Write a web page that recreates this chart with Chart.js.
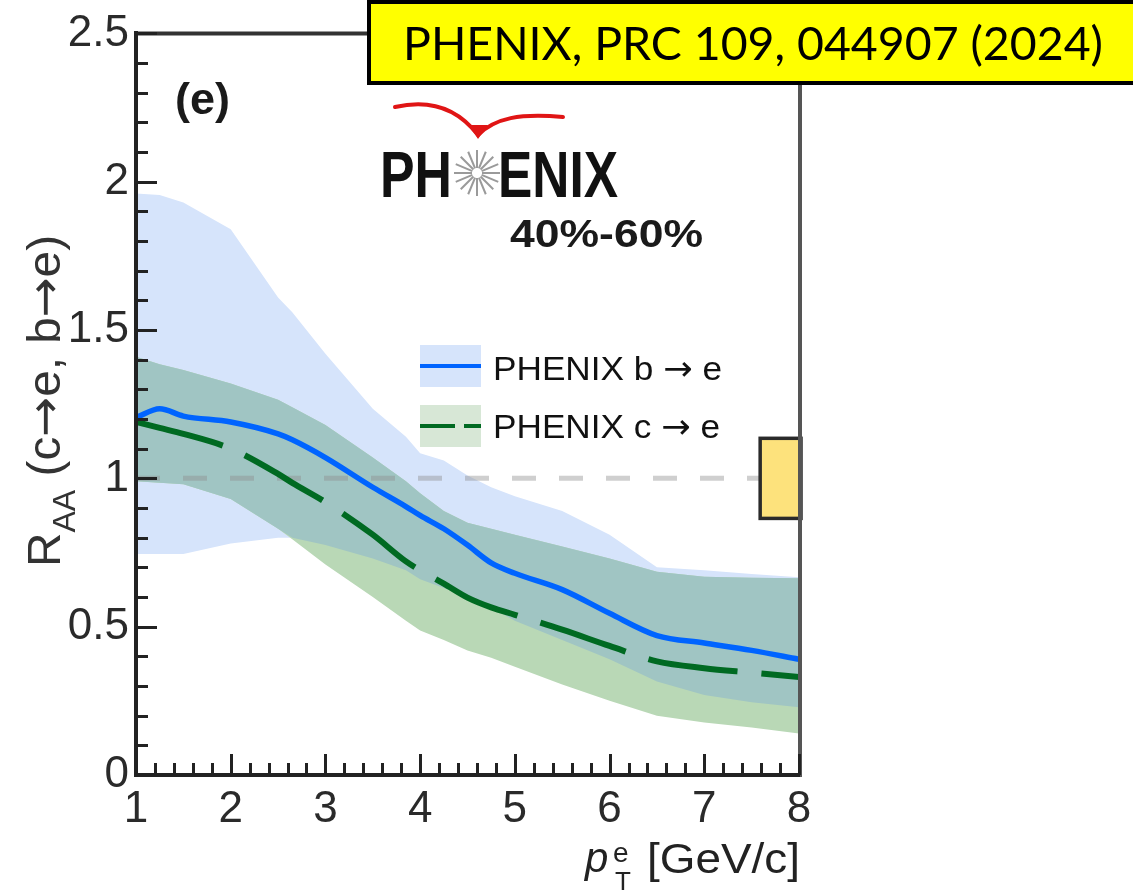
<!DOCTYPE html>
<html>
<head>
<meta charset="utf-8">
<script src="https://cdn.jsdelivr.net/npm/chart.js@4.4.1/dist/chart.umd.min.js"></script>
<style>
  html, body { margin: 0; padding: 0; background: #ffffff; }
  #wrap { position: relative; width: 1133px; height: 892px; }
</style>
</head>
<body>
<div id="wrap"><canvas id="c"></canvas></div>
<script>
// ---------------- data ----------------
const pT = [1, 1.25, 1.5, 2, 2.5, 2.65, 3, 3.5, 3.85, 4, 4.25, 4.5, 4.75, 5, 5.5, 6, 6.5, 7, 7.5, 8];

const bToE      = [1.205, 1.235, 1.21, 1.19, 1.15, 1.13, 1.07, 0.97, 0.905, 0.875, 0.83, 0.775, 0.715, 0.68, 0.625, 0.545, 0.47, 0.445, 0.42, 0.39];
const bToEUpper = [1.96, 1.955, 1.93, 1.84, 1.61, 1.56, 1.42, 1.235, 1.14, 1.085, 1.06, 1.01, 0.97, 0.94, 0.89, 0.81, 0.70, 0.69, 0.678, 0.667];
const bToELower = [0.745, 0.745, 0.745, 0.78, 0.80, 0.80, 0.775, 0.73, 0.69, 0.66, 0.63, 0.60, 0.565, 0.52, 0.455, 0.39, 0.315, 0.27, 0.245, 0.228];

const cToE      = [1.19, 1.17, 1.15, 1.10, 1.015, 0.985, 0.92, 0.81, 0.72, 0.69, 0.645, 0.598, 0.565, 0.54, 0.49, 0.435, 0.383, 0.36, 0.345, 0.33];
const cToEUpper = [1.41, 1.385, 1.365, 1.32, 1.265, 1.24, 1.18, 1.07, 0.99, 0.95, 0.89, 0.85, 0.83, 0.81, 0.77, 0.73, 0.685, 0.668, 0.665, 0.663];
const cToELower = [0.99, 0.985, 0.98, 0.93, 0.83, 0.795, 0.71, 0.60, 0.52, 0.487, 0.455, 0.42, 0.395, 0.365, 0.305, 0.25, 0.20, 0.177, 0.16, 0.14];

const unityX = [1, 8];
const unityY = [1, 1];
const normUncert = [0.865, 1.135];   // global normalisation uncertainty on R_AA = 1

const xTicks = [1, 2, 3, 4, 5, 6, 7, 8];
const yTicks = [0, 0.5, 1, 1.5, 2, 2.5];

const legendLabels = ['PHENIX b \u2192 e', 'PHENIX c \u2192 e'];
const titleText = 'PHENIX, PRC 109, 044907 (2024)';
const panelLabel = '(e)';
const centralityText = '40%-60%';
const logoLeft = 'PH';
const logoRight = 'ENIX';

// ---------------- styles ----------------
const COL_BLUE_BAND = '#d6e4fb';
const COL_GREEN_BAND = '#b9d8b6';
const COL_OVERLAP = '#a0c5c3';
const COL_BLUE = '#0064ff';
const COL_GREEN = '#006a22';
const SANS = '"Liberation Sans", Arial, Helvetica, sans-serif';
const ARROWF = '"DejaVu Sans", sans-serif';
const NORM_BOX_WIDTH = 0.41;   // in pT units, box sits against right axis

// ---------------- derived tables ----------------
const pts = arr => pT.map((x, i) => ({ x: x, y: arr[i] }));
const overlapLow = pT.map((_, i) => Math.max(bToELower[i], cToELower[i]));
const overlapUp = pT.map((_, i) => Math.min(bToEUpper[i], cToEUpper[i]));

function fitText(ctx, txt, x, yb, font, w) {
  ctx.font = font;
  const m = ctx.measureText(txt).width;
  const s = w ? w / m : 1;
  ctx.save();
  ctx.translate(x, yb);
  ctx.scale(s, 1);
  ctx.textAlign = 'left';
  ctx.textBaseline = 'alphabetic';
  ctx.fillText(txt, 0, 0);
  ctx.restore();
}

// split a label so that arrows use a font with a long arrow glyph
function arrowSegments(txt, size, dy) {
  const segs = [];
  txt.split(/(\u2192)/).forEach(p => {
    if (!p) return;
    segs.push({ t: p, font: size + 'px ' + (p === '\u2192' ? ARROWF : SANS), dy: dy || 0 });
  });
  return segs;
}

function richText(ctx, segs, w) {
  let total = 0;
  segs.forEach(s => { ctx.font = s.font; s.w = ctx.measureText(s.t).width; total += s.w; });
  const sc = w ? w / total : 1;
  ctx.save();
  ctx.scale(sc, 1);
  ctx.textAlign = 'left';
  ctx.textBaseline = 'alphabetic';
  let cx = 0;
  segs.forEach(s => { ctx.font = s.font; ctx.fillText(s.t, cx, s.dy); cx += s.w; });
  ctx.restore();
}

const deco = {
  id: 'deco',
  afterDatasetsDraw(chart) {
    const { ctx, chartArea: a, scales: { x, y } } = chart;
    ctx.save();

    // normalisation uncertainty box at R_AA = 1
    const bx0 = x.getPixelForValue(x.max - NORM_BOX_WIDTH);
    const bx1 = x.getPixelForValue(x.max);
    const by0 = y.getPixelForValue(normUncert[1]);
    const by1 = y.getPixelForValue(normUncert[0]);
    ctx.fillStyle = '#fde27c';
    ctx.fillRect(bx0, by0, bx1 - bx0, by1 - by0);
    ctx.strokeStyle = '#2a2a2a';
    ctx.lineWidth = 3.5;
    ctx.strokeRect(bx0, by0, bx1 - bx0 + 2, by1 - by0);

    // top and right frame
    ctx.lineWidth = 4;
    ctx.strokeStyle = '#333';
    ctx.beginPath(); ctx.moveTo(a.left - 2, a.top); ctx.lineTo(a.right + 3, a.top); ctx.stroke();
    ctx.strokeStyle = '#555';
    ctx.beginPath(); ctx.moveTo(a.right + 1, a.top); ctx.lineTo(a.right + 1, a.bottom + 2); ctx.stroke();

    // inward ticks
    ctx.strokeStyle = '#222';
    ctx.lineWidth = 3;
    for (let k = 0; k <= 25; k++) {
      const v = k * 0.1;
      const py = Math.round(y.getPixelForValue(v)) + 0.5;
      const len = (k % 5 === 0) ? 21 : 12;
      ctx.beginPath(); ctx.moveTo(a.left, py); ctx.lineTo(a.left + len, py); ctx.stroke();
    }
    for (let k = 0; k <= 35; k++) {
      const v = 1 + k * 0.2;
      const px = Math.round(x.getPixelForValue(v)) + 0.5;
      const len = (k % 5 === 0) ? 21 : 12;
      ctx.beginPath(); ctx.moveTo(px, a.bottom); ctx.lineTo(px, a.bottom - len); ctx.stroke();
    }

    // legend
    ctx.fillStyle = COL_BLUE_BAND;
    ctx.fillRect(420, 345, 61, 42);
    ctx.strokeStyle = COL_BLUE; ctx.lineWidth = 4;
    ctx.beginPath(); ctx.moveTo(420, 366); ctx.lineTo(481, 366); ctx.stroke();
    ctx.fillStyle = '#d7e7d6';
    ctx.fillRect(420, 405, 61, 42);
    ctx.strokeStyle = COL_GREEN; ctx.lineWidth = 4;
    ctx.setLineDash([35, 9]);
    ctx.beginPath(); ctx.moveTo(420, 426); ctx.lineTo(481, 426); ctx.stroke();
    ctx.setLineDash([]);
    ctx.fillStyle = '#111';
    ctx.save(); ctx.translate(493, 380); richText(ctx, arrowSegments(legendLabels[0], 34), 229); ctx.restore();
    ctx.save(); ctx.translate(493, 438); richText(ctx, arrowSegments(legendLabels[1], 34), 227); ctx.restore();

    // panel label
    ctx.fillStyle = '#1a1a1a';
    fitText(ctx, panelLabel, 175, 114, 'bold 44px ' + SANS, 55);

    // PHENIX logo
    ctx.fillStyle = '#111';
    fitText(ctx, logoLeft, 380, 197, 'bold 64px ' + SANS, 72);
    fitText(ctx, logoRight, 498, 197, 'bold 64px ' + SANS, 120);
    ctx.strokeStyle = '#9a9a9a'; ctx.lineWidth = 2;
    const cx = 477, cy = 173;
    for (let k = 0; k < 16; k++) {
      const ang = k * Math.PI / 8;
      ctx.beginPath();
      ctx.moveTo(cx + 5 * Math.cos(ang), cy + 5 * Math.sin(ang));
      ctx.lineTo(cx + 23 * Math.cos(ang), cy + 23 * Math.sin(ang));
      ctx.stroke();
    }
    ctx.strokeStyle = '#e01515'; ctx.lineWidth = 4; ctx.lineCap = 'round';
    ctx.beginPath();
    ctx.moveTo(395, 107);
    ctx.bezierCurveTo(425, 100, 455, 105, 478, 135);
    ctx.bezierCurveTo(495, 118, 520, 113, 563, 117);
    ctx.stroke();
    ctx.fillStyle = '#e01515';
    ctx.beginPath(); ctx.moveTo(469, 125); ctx.lineTo(478, 139); ctx.lineTo(488, 125); ctx.closePath(); ctx.fill();
    ctx.lineCap = 'butt';

    // centrality
    ctx.fillStyle = '#1a1a1a';
    fitText(ctx, centralityText, 510, 247, 'bold 38px ' + SANS, 193);

    // y-axis title (rotated, with subscript)
    ctx.save();
    ctx.translate(60, 567);
    ctx.rotate(-Math.PI / 2);
    ctx.fillStyle = '#333';
    const ySegs = [{ t: 'R', font: '46px ' + SANS, dy: 0 },
                   { t: 'AA', font: '31px ' + SANS, dy: 15 }]
      .concat(arrowSegments(' (c\u2192e, b\u2192e)', 46));
    richText(ctx, ySegs, 332);
    ctx.restore();

    // x-axis title
    ctx.fillStyle = '#222';
    ctx.textAlign = 'left';
    ctx.textBaseline = 'alphabetic';
    ctx.font = 'italic 42px ' + SANS; ctx.fillText('p', 585, 872);
    ctx.font = '28px ' + SANS; ctx.fillText('e', 613, 862);
    ctx.font = '26px ' + SANS; ctx.fillText('T', 615, 890);
    fitText(ctx, '[GeV/c]', 647, 873, '42px ' + SANS, 153);

    // reference box
    ctx.fillStyle = '#ffff00';
    ctx.fillRect(367, 0, 800, 85);
    ctx.strokeStyle = '#000'; ctx.lineWidth = 4;
    ctx.strokeRect(369, 2, 900, 81);
    ctx.fillStyle = '#000';
    fitText(ctx, titleText, 403, 60, '47px Lato, "Open Sans", sans-serif', 700);

    ctx.restore();
  }
};

const bandLine = { borderWidth: 0, pointRadius: 0, tension: 0 };

new Chart(document.getElementById('c'), {
  type: 'line',
  data: {
    datasets: [
      { ...bandLine, label: 'b lower', data: pts(bToELower), fill: false, order: 10 },
      { ...bandLine, label: 'b upper', data: pts(bToEUpper), fill: 0, backgroundColor: COL_BLUE_BAND, order: 9 },
      { ...bandLine, label: 'c lower', data: pts(cToELower), fill: false, order: 8 },
      { ...bandLine, label: 'c upper', data: pts(cToEUpper), fill: 2, backgroundColor: COL_GREEN_BAND, order: 7 },
      { ...bandLine, label: 'overlap lower', data: pts(overlapLow), fill: false, order: 6 },
      { ...bandLine, label: 'overlap upper', data: pts(overlapUp), fill: 4, backgroundColor: COL_OVERLAP, order: 5 },
      { label: 'unity', data: unityX.map((v, i) => ({ x: v, y: unityY[i] })), borderColor: 'rgba(140,140,140,0.42)',
        borderWidth: 5, borderDash: [24, 23], pointRadius: 0, fill: false, order: 4 },
      { label: legendLabels[0], data: pts(bToE), borderColor: COL_BLUE, borderWidth: 5.5, pointRadius: 0,
        fill: false, cubicInterpolationMode: 'monotone', order: 2 },
      { label: legendLabels[1], data: pts(cToE), borderColor: COL_GREEN, borderWidth: 6, borderDash: [90, 24],
        pointRadius: 0, fill: false, cubicInterpolationMode: 'monotone', order: 1 }
    ]
  },
  options: {
    responsive: true,
    maintainAspectRatio: false,
    animation: false,
    devicePixelRatio: 1,
    layout: { padding: { left: 0, top: 33, right: 334, bottom: 0 } },
    plugins: { legend: { display: false }, tooltip: { enabled: false }, title: { display: false } },
    scales: {
      x: {
        type: 'linear', min: 1, max: 8,
        afterFit(s) { s.height = 117; },
        afterBuildTicks(s) { s.ticks = xTicks.map(v => ({ value: v })); },
        ticks: { font: { family: SANS, size: 44 }, color: '#2a2a2a', padding: 8, maxRotation: 0, autoSkip: false,
                 callback: v => String(v) },
        grid: { display: false, drawTicks: false },
        border: { display: true, color: '#222', width: 4, z: 1 }
      },
      y: {
        type: 'linear', min: 0, max: 2.5,
        afterFit(s) { s.width = 136; },
        afterBuildTicks(s) { s.ticks = yTicks.map(v => ({ value: v })); },
        ticks: { font: { family: SANS, size: 44 }, color: '#2a2a2a', padding: 7, autoSkip: false,
                 callback: v => String(v) },
        grid: { display: false, drawTicks: false },
        border: { display: true, color: '#222', width: 4, z: 1 }
      }
    }
  },
  plugins: [deco]
});
</script>
</body>
</html>
